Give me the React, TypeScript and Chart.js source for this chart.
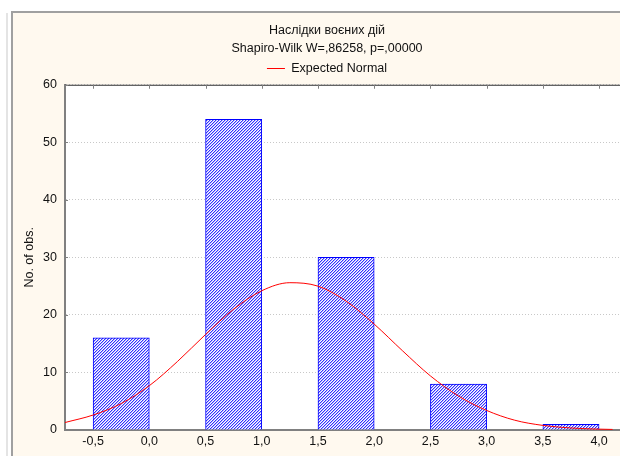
import React, { useEffect, useRef } from "react";
import { Chart, registerables } from "chart.js";

Chart.register(...registerables);

// ---- data ----
const titleLines = ["Наслідки воєних дій", "Shapiro-Wilk W=,86258, p=,00000"];
const legendLabel = "Expected Normal";
const yTitle = "No. of obs.";

const binStarts = [-0.5, 0.5, 1.5, 2.5, 3.5];
const binWidth = 0.5;
const counts = [16, 54, 30, 8, 1];

const normalX = [-0.75, -0.5, -0.25, 0.0, 0.25, 0.5, 0.75, 1.0, 1.25, 1.5, 1.75, 2.0, 2.25, 2.5, 2.75, 3.0, 3.25, 3.5, 3.75, 4.0, 4.12];
const normalY = [1.3, 2.6, 4.6, 7.7, 11.9, 16.6, 21.0, 24.2, 25.6, 25.0, 22.4, 18.4, 13.8, 9.4, 5.9, 3.4, 1.7, 0.8, 0.35, 0.15, 0.1];

const xTickValues = [-0.5, 0.0, 0.5, 1.0, 1.5, 2.0, 2.5, 3.0, 3.5, 4.0];
const xTickLabels = ["-0,5", "0,0", "0,5", "1,0", "1,5", "2,0", "2,5", "3,0", "3,5", "4,0"];
const xMin = -0.75;
const xMax = 4.364;

const yTickValues = [0, 10, 20, 30, 40, 50, 60];
const yMin = 0;
const yMax = 60;

const FONT = "'Liberation Sans', Arial, sans-serif";
const FS = 12.5;
const CREAM = "#fff9ef";

function makeHatch(): CanvasPattern | string {
  const c = document.createElement("canvas");
  c.width = 3;
  c.height = 3;
  const g = c.getContext("2d");
  if (!g) return "#8080ff";
  g.fillStyle = "#ffffff";
  g.fillRect(0, 0, 3, 3);
  for (let y = 0; y < 3; y++) {
    const x = (2 - y + 3) % 3;
    g.fillStyle = "#3030ff";
    g.fillRect(x, y, 1, 1);
    g.fillStyle = "#b4b4ff";
    g.fillRect((x + 1) % 3, y, 1, 1);
  }
  const p = g.createPattern(c, "repeat");
  return p || "#8080ff";
}

const framePlugin = {
  id: "frame",
  beforeDraw(chart: any) {
    const { ctx, width, height, chartArea } = chart;
    ctx.save();
    ctx.fillStyle = "#ffffff";
    ctx.fillRect(0, 0, width, height);
    ctx.fillStyle = "#e4e4e4";
    ctx.fillRect(6, 13, 2, height - 13);
    ctx.fillStyle = "#a0a0a0";
    ctx.fillRect(11, 11, 2, height - 11);
    ctx.fillRect(11, 11, width - 11, 2);
    ctx.fillStyle = CREAM;
    ctx.fillRect(13, 13, width - 13, height - 13);
    ctx.fillStyle = "#ffffff";
    ctx.fillRect(chartArea.left, chartArea.top, chartArea.right - chartArea.left, chartArea.bottom - chartArea.top);
    ctx.restore();
  },
  afterDraw(chart: any) {
    const { ctx, chartArea } = chart;
    const xs = chart.scales.x;
    const ys = chart.scales.y;
    ctx.save();
    ctx.strokeStyle = "#303030";
    ctx.lineWidth = 1;
    ctx.beginPath();
    ctx.moveTo(chartArea.left, chartArea.top + 0.5);
    ctx.lineTo(chartArea.right, chartArea.top + 0.5);
    ctx.stroke();
    ctx.strokeStyle = "#808080";
    ctx.beginPath();
    xTickValues.forEach((v) => {
      const px = Math.round(xs.getPixelForValue(v)) + 0.5;
      ctx.moveTo(px, chartArea.top);
      ctx.lineTo(px, chartArea.top + 4);
    });
    yTickValues.forEach((v) => {
      const py = Math.round(ys.getPixelForValue(v)) + 0.5;
      ctx.moveTo(chartArea.left, py);
      ctx.lineTo(chartArea.left + 3, py);
    });
    ctx.stroke();
    ctx.restore();
  },
};

export default function App() {
  const ref = useRef<HTMLCanvasElement | null>(null);

  useEffect(() => {
    if (!ref.current) return;
    const hatch = makeHatch();
    const barData = binStarts.map((s, i) => ({ x: s + binWidth / 2, y: counts[i] }));
    const lineData = normalX.map((x, i) => ({ x, y: normalY[i] }));

    const chart = new Chart(ref.current, {
      type: "bar",
      data: {
        datasets: [
          {
            type: "line",
            label: legendLabel,
            data: lineData,
            borderColor: "#ff0000",
            backgroundColor: "#ff0000",
            borderWidth: 1,
            pointRadius: 0,
            cubicInterpolationMode: "monotone",
            fill: false,
          } as any,
          {
            type: "bar",
            label: "obs",
            data: barData,
            backgroundColor: hatch as any,
            borderColor: "#0000ff",
            borderWidth: 1,
            barPercentage: 1,
            categoryPercentage: 1,
          } as any,
        ],
      },
      options: {
        animation: false,
        responsive: false,
        maintainAspectRatio: false,
        devicePixelRatio: 1,
        layout: { padding: { top: 14, left: 14, right: 0, bottom: 0 } },
        plugins: {
          tooltip: { enabled: false },
          title: {
            display: true,
            text: titleLines,
            color: "#111111",
            font: { family: FONT, size: FS, weight: "normal", lineHeight: 1.45 },
            padding: { top: 7, bottom: 0 },
          },
          legend: {
            display: true,
            labels: {
              filter: (item: any) => item.datasetIndex === 0,
              usePointStyle: true,
              pointStyle: "line",
              pointStyleWidth: 18,
              color: "#111111",
              padding: 5,
              font: { family: FONT, size: FS },
            },
          },
        },
        scales: {
          x: {
            type: "linear",
            position: "bottom",
            offset: false,
            min: xMin,
            max: xMax,
            afterBuildTicks: (scale: any) => {
              scale.ticks = xTickValues.map((v) => ({ value: v }));
            },
            afterFit: (scale: any) => {
              scale.height = 26;
            },
            grid: { display: false, drawTicks: false },
            border: { display: true, color: "#808080", width: 2 },
            ticks: {
              autoSkip: false,
              maxRotation: 0,
              minRotation: 0,
              padding: 4,
              color: "#111111",
              font: { family: FONT, size: FS },
              callback: (v: any) => {
                const i = xTickValues.findIndex((t) => Math.abs(t - Number(v)) < 1e-6);
                return i >= 0 ? xTickLabels[i] : "";
              },
            },
          },
          y: {
            type: "linear",
            min: yMin,
            max: yMax,
            afterBuildTicks: (scale: any) => {
              scale.ticks = yTickValues.map((v) => ({ value: v }));
            },
            afterFit: (scale: any) => {
              scale.width = 51;
            },
            grid: {
              color: "#c8c8c8",
              drawTicks: false,
              lineWidth: 1,
            },
            border: { display: true, color: "#808080", width: 2, dash: [1, 2] } as any,
            ticks: {
              padding: 8,
              color: "#111111",
              font: { family: FONT, size: FS },
            },
            title: {
              display: true,
              text: yTitle,
              color: "#111111",
              font: { family: FONT, size: FS },
              padding: { top: 8, bottom: 0 },
            },
          },
        },
      },
      plugins: [framePlugin],
    } as any);

    return () => chart.destroy();
  }, []);

  return (
    <div style={{ position: "fixed", left: 0, top: 0, width: 620, height: 456, overflow: "hidden" }}>
      <canvas ref={ref} width={640} height={456} style={{ display: "block", width: 640, height: 456 }} />
    </div>
  );
}
